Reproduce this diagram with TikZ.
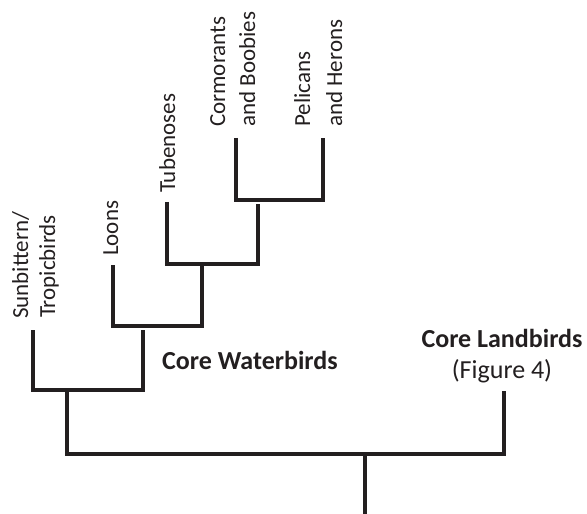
\documentclass[tikz,border=0pt]{standalone}
\usepackage{fontspec}
\setmainfont{Carlito}
\definecolor{ink}{HTML}{231F20}
\begin{document}
\begin{tikzpicture}[x=1bp,y=-1bp,
  branch/.style={draw=ink, line width=3.9bp, line join=miter},
  vlab/.style={rotate=90, anchor=base west, inner sep=0pt, text=ink, font=\fontsize{23bp}{27bp}\selectfont},
  blab/.style={inner sep=0pt, text=ink, font=\fontsize{26bp}{31bp}\selectfont}]
\useasboundingbox (0,0) rectangle (587,514);
% tips
\coordinate (sunTip) at (33,330);
\coordinate (loonTip) at (113,265);
\coordinate (tubeTip) at (167,202);
\coordinate (cormTip) at (236,138);
\coordinate (pelTip) at (323,138);
\coordinate (landTip) at (504,391);
% cormorant/pelican clade
\coordinate (cpL) at (236,200);
\coordinate (cpR) at (323,200);
\draw[branch] (cormTip) -- (cpL) -- (cpR) -- (pelTip);
% tubenose clade
\coordinate (cpS) at (258,204);
\coordinate (tbL) at (167,264);
\coordinate (tbR) at (258,264);
\draw[branch] (tubeTip) -- (tbL) -- (tbR) -- (cpS);
% loon clade
\coordinate (tbS) at (202,264);
\coordinate (lnL) at (113,326);
\coordinate (lnR) at (202,326);
\draw[branch] (loonTip) -- (lnL) -- (lnR) -- (tbS);
% core waterbirds
\coordinate (lnS) at (143,330);
\coordinate (swL) at (33,390);
\coordinate (swR) at (143,390);
\draw[branch] (sunTip) -- (swL) -- (swR) -- (lnS);
% main split
\coordinate (swS) at (67,390);
\coordinate (mL) at (67,454);
\coordinate (mR) at (504,454);
\draw[branch] (swS) -- (mL) -- (mR) -- (landTip);
% root
\coordinate (rootS) at (365,454);
\coordinate (rootB) at (365,514);
\draw[branch] (rootS) -- (rootB);
% labels
\node[vlab] (sun1) at (28,319) {Sunbittern/};
\node[vlab] (sun2) at (55,318) {Tropicbirds};
\node[vlab] (loons) at (118,256) {Loons};
\node[vlab] (tube) at (175,193) {Tubenoses};
\node[vlab] (corm1) at (225,127) {Cormorants};
\node[vlab] (corm2) at (255,127) {and Boobies};
\node[vlab] (pel1) at (310,127) {Pelicans};
\node[vlab] (pel2) at (342,127) {and Herons};
\node[blab, anchor=base west] (cw) at (162,369.5) {\bfseries Core Waterbirds};
\node[blab, anchor=base] (cl1) at (502,347) {\bfseries Core Landbirds};
\node[blab, anchor=base] (cl2) at (502,378) {(Figure 4)};
\end{tikzpicture}
\end{document}
